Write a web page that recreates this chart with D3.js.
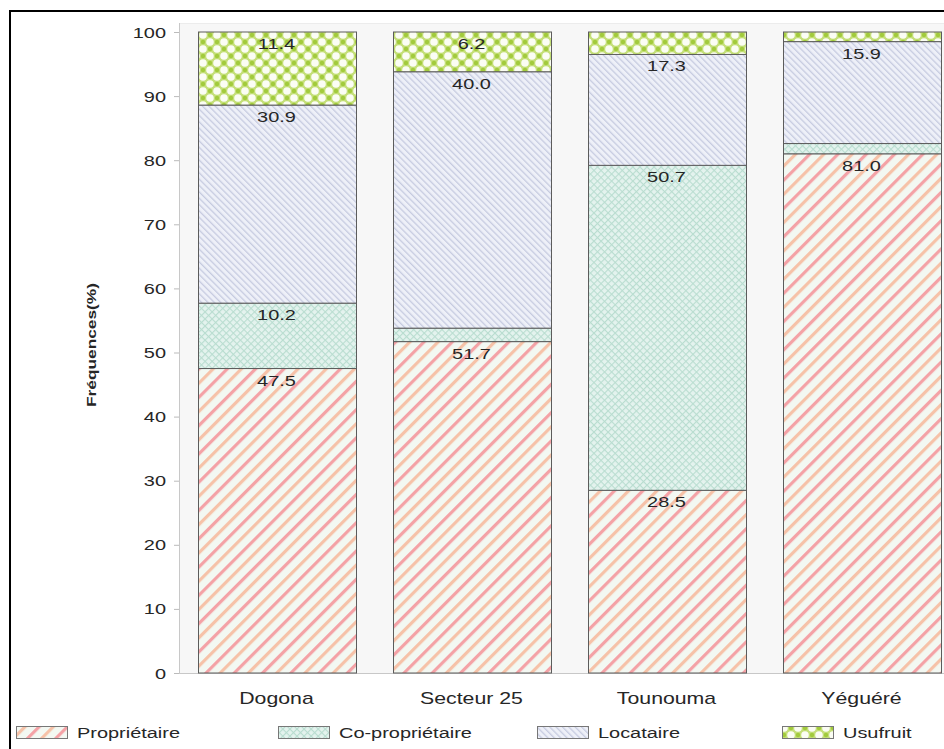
<!DOCTYPE html>
<html><head><meta charset="utf-8">
<script src="https://cdn.jsdelivr.net/npm/d3@7"></script>
<style>html,body{margin:0;padding:0;background:#fff;}svg{display:block;}text{font-family:"Liberation Sans",Arial,sans-serif;fill:#262626;}</style>
</head><body>
<script>
const categories = ["Dogona", "Secteur 25", "Tounouma", "Yéguéré"];
const seriesNames = ["Propriétaire", "Co-propriétaire", "Locataire", "Usufruit"];
const proprietaire = [47.5, 51.7, 28.5, 81.0];
const coproprietaire = [10.2, 2.1, 50.7, 1.6];
const locataire = [30.9, 40.0, 17.3, 15.9];
const usufruit = [11.4, 6.2, 3.5, 1.5];
const yTicks = [0, 10, 20, 30, 40, 50, 60, 70, 80, 90, 100];
const yTitle = "Fréquences(%)";

const W = 944, H = 749, SX = 1.33;
const svg = d3.select("body").append("svg").attr("width", W).attr("height", H);
const defs = svg.append("defs");

// patterns
const pProp = defs.append("pattern").attr("id", "pat0").attr("patternUnits", "userSpaceOnUse")
  .attr("width", 20).attr("height", 20).attr("patternTransform", "rotate(45)");
pProp.append("rect").attr("width", 20).attr("height", 20).attr("fill", "#f3f8f2");
pProp.append("rect").attr("x", 0).attr("width", 3.2).attr("height", 20).attr("fill", "#f4a2a6");
pProp.append("rect").attr("x", 10).attr("width", 3.2).attr("height", 20).attr("fill", "#f6c2a8");

const pCo = defs.append("pattern").attr("id", "pat1").attr("patternUnits", "userSpaceOnUse")
  .attr("width", 5).attr("height", 5).attr("patternTransform", "rotate(45)");
pCo.append("rect").attr("width", 5).attr("height", 5).attr("fill", "#e4f3ee");
pCo.append("rect").attr("width", 1.1).attr("height", 5).attr("fill", "#b9ddd0");
pCo.append("rect").attr("width", 5).attr("height", 1.1).attr("fill", "#b9ddd0");

const pLoc = defs.append("pattern").attr("id", "pat2").attr("patternUnits", "userSpaceOnUse")
  .attr("width", 4.5).attr("height", 4.5).attr("patternTransform", "rotate(-45)");
pLoc.append("rect").attr("width", 4.5).attr("height", 4.5).attr("fill", "#eef0f8");
pLoc.append("rect").attr("width", 1.3).attr("height", 4.5).attr("fill", "#c6cbe0");

const pUsu = defs.append("pattern").attr("id", "pat3").attr("patternUnits", "userSpaceOnUse")
  .attr("width", 14).attr("height", 14);
pUsu.append("rect").attr("width", 14).attr("height", 14).attr("fill", "#c4df78");
[[0,0],[14,0],[0,14],[14,14],[7,7]].forEach(([cx,cy]) =>
  pUsu.append("circle").attr("cx", cx).attr("cy", cy).attr("r", 3.8).attr("fill", "#fbfdf4"));
[[7,0],[0,7],[14,7],[7,14]].forEach(([cx,cy]) =>
  pUsu.append("circle").attr("cx", cx).attr("cy", cy).attr("r", 2.2).attr("fill", "#a2cb3c"));

// outer frame
svg.append("rect").attr("x", 10).attr("y", 11).attr("width", 1000).attr("height", 1000)
  .attr("fill", "none").attr("stroke", "#000").attr("stroke-width", 2);

const plotLeft = 179, plotTop = 23, plotBottom = 673;
const y = d3.scaleLinear().domain([0, 100]).range([plotBottom, 32]);
const x = d3.scaleBand().domain(categories).range([plotLeft, 959]).paddingInner(0.19).paddingOuter(0.095);

svg.append("rect").attr("x", plotLeft).attr("y", plotTop).attr("width", W - plotLeft).attr("height", plotBottom - plotTop)
  .attr("fill", "#f7f7f7");
svg.append("line").attr("x1", plotLeft).attr("x2", W).attr("y1", plotTop + 0.5).attr("y2", plotTop + 0.5)
  .attr("stroke", "#ececec");

// y axis
const yAxis = svg.append("g");
yAxis.append("line").attr("x1", plotLeft + 0.5).attr("x2", plotLeft + 0.5).attr("y1", plotTop).attr("y2", plotBottom)
  .attr("stroke", "#c8c8c8");
yTicks.forEach(t => {
  yAxis.append("line").attr("x1", plotLeft - 5).attr("x2", plotLeft).attr("y1", y(t) + 0.5).attr("y2", y(t) + 0.5)
    .attr("stroke", "#bbb");
  yAxis.append("text").attr("transform", `translate(166,${y(t) + 5.5}) scale(${SX},1)`)
    .attr("text-anchor", "end").attr("font-size", 15).text(t);
});
svg.append("line").attr("x1", plotLeft).attr("x2", W).attr("y1", plotBottom + 0.5).attr("y2", plotBottom + 0.5)
  .attr("stroke", "#c8c8c8");
svg.append("text").attr("transform", "translate(96,345) rotate(-90)").attr("text-anchor", "middle")
  .attr("font-size", 13.5).attr("font-weight", "bold").attr("textLength", 124).attr("lengthAdjust", "spacingAndGlyphs")
  .text(yTitle);

// stack
const rows = categories.map((c, i) => ({cat: c, "Propriétaire": proprietaire[i], "Co-propriétaire": coproprietaire[i],
  "Locataire": locataire[i], "Usufruit": usufruit[i]}));
const stack = d3.stack().keys(seriesNames)(rows);

stack.forEach((layer, si) => {
  const g = svg.append("g");
  layer.forEach(d => {
    const x0 = Math.round(x(d.data.cat)) + 0.5;
    const w = Math.round(x.bandwidth());
    g.append("rect").attr("x", x0).attr("y", y(d[1])).attr("width", w).attr("height", y(d[0]) - y(d[1]))
      .attr("fill", `url(#pat${si})`).attr("stroke", "#5c5c5c").attr("stroke-width", 1);
  });
});
stack.forEach((layer, si) => {
  layer.forEach(d => {
    const v = d[1] - d[0];
    if (v >= 5) {
      svg.append("text").attr("transform", `translate(${x(d.data.cat) + x.bandwidth() / 2},${y(d[1]) + 17}) scale(${SX},1)`)
        .attr("text-anchor", "middle").attr("font-size", 15).text(v.toFixed(1));
    }
  });
});

// x labels
categories.forEach(c => {
  svg.append("text").attr("transform", `translate(${x(c) + x.bandwidth() / 2},${plotBottom + 31}) scale(${SX},1)`)
    .attr("text-anchor", "middle").attr("font-size", 16).text(c);
});

// legend
const legX = [16, 278, 537, 782];
seriesNames.forEach((s, i) => {
  svg.append("rect").attr("x", legX[i] + 0.5).attr("y", 726.5).attr("width", 51).attr("height", 12)
    .attr("fill", `url(#pat${i})`).attr("stroke", "#777");
  svg.append("text").attr("transform", `translate(${legX[i] + 61},${738}) scale(${SX},1)`)
    .attr("font-size", 15).text(s);
});
</script>
</body></html>
